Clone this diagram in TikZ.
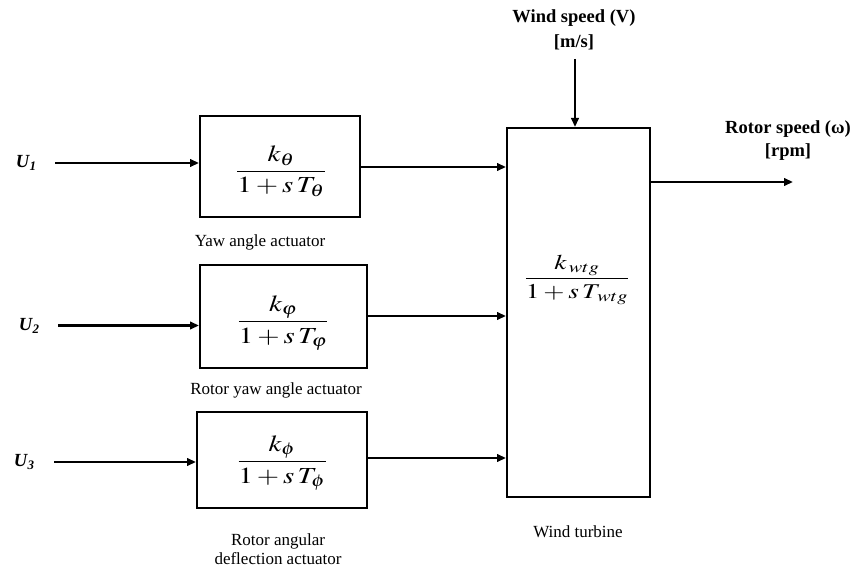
\documentclass[tikz,border=0pt]{standalone}
\usepackage{mathptmx}
\usepackage{graphicx}
\usepackage{fontspec}
\setmainfont{Liberation Serif}
\usetikzlibrary{arrows.meta}
\tikzset{
  blk/.style={draw, line width=2pt, inner sep=0pt},
  arr/.style={line width=2.2pt, -{Triangle[length=9pt,width=7.5pt]}},
  lbl/.style={font=\fontsize{17}{19.5}\selectfont, align=center, inner sep=0pt},
  blbl/.style={font=\fontsize{18.5}{25}\selectfont\bfseries, align=center, inner sep=0pt},
  ulbl/.style={font=\fontsize{18.5}{20}\selectfont\bfseries\itshape, inner sep=0pt},
  frac/.style={inner sep=0pt, font=\fontsize{23}{27}\selectfont},
}
\newcommand{\tf}[2]{\scalebox{1.25}[1]{$\displaystyle\frac{#1}{#2}$}}
\newcommand{\ulab}[1]{U\kern0.5pt\raisebox{-0.35ex}{\fontsize{13}{14}\selectfont #1}}
\begin{document}
\begin{tikzpicture}[x=1pt,y=-1pt]
\useasboundingbox (0,0) rectangle (855,567);
% blocks
\node[blk, minimum width=160pt, minimum height=101pt] (b1) at (280,166.5) {};
\node[blk, minimum width=167pt, minimum height=103pt] (b2) at (283.5,316.5) {};
\node[blk, minimum width=170pt, minimum height=96pt] (b3) at (282,460) {};
\node[blk, minimum width=143pt, minimum height=369pt] (wt) at (578.5,312.5) {};
% fractions
\node[frac] (f1) at (281,171) {\tf{k_{\theta}}{1+s\,T_{\theta}}};
\node[frac] (f2) at (283,323) {\tf{k_{\varphi}}{1+s\,T_{\varphi}}};
\node[frac] (f3) at (282,463) {\tf{k_{\phi}}{1+s\,T_{\phi}}};
\node[frac, font=\fontsize{21}{25}\selectfont] (f4) at (577,280) {\scalebox{1.3}[1]{$\displaystyle\frac{k_{\,wtg}}{1+s\,T_{\,wtg}}$}};
% input labels
\node[ulbl] (u1) at (26,163) {\ulab{1}};
\node[ulbl] (u2) at (29,325.5) {\ulab{2}};
\node[ulbl] (u3) at (24,462) {\ulab{3}};
\coordinate (s1) at (55,163);
\coordinate (s2) at (58,325.5);
\coordinate (s3) at (54,462);
\draw[arr] (s1) -- (s1 -| b1.west);
\draw[arr] (s2) -- (s2 -| b2.west);
\draw[arr] (s3) -- (s3 -| b3.west);
% block outputs
\coordinate (o1) at (360,167);
\coordinate (o2) at (367,316);
\coordinate (o3) at (367,458);
\draw[arr] (o1 -| b1.east) -- (o1 -| wt.west);
\draw[arr] (o2 -| b2.east) -- (o2 -| wt.west);
\draw[arr] (o3 -| b3.east) -- (o3 -| wt.west);
% wind speed
\node[blbl] (ws) at (574,30) {Wind speed (V)\\{[m/s]}};
\coordinate (wsin) at (575,59);
\draw[arr] (wsin) -- (wsin |- wt.north);
% rotor speed
\node[blbl, font=\fontsize{18.5}{23}\selectfont\bfseries] (rs) at (788,141) {Rotor speed (ω)\\{[rpm]}};
\coordinate (rsout) at (793,182);
\draw[arr] (rsout -| wt.east) -- (rsout);
% captions
\node[lbl] (c1) at (260,242) {Yaw angle actuator};
\node[lbl] (c2) at (276,390) {Rotor yaw angle actuator};
\node[lbl, font=\fontsize{17}{18.5}\selectfont] (c3) at (278,549) {Rotor angular\\deflection actuator};
\node[lbl] (c4) at (578,532) {Wind turbine};
\end{tikzpicture}
\end{document}
